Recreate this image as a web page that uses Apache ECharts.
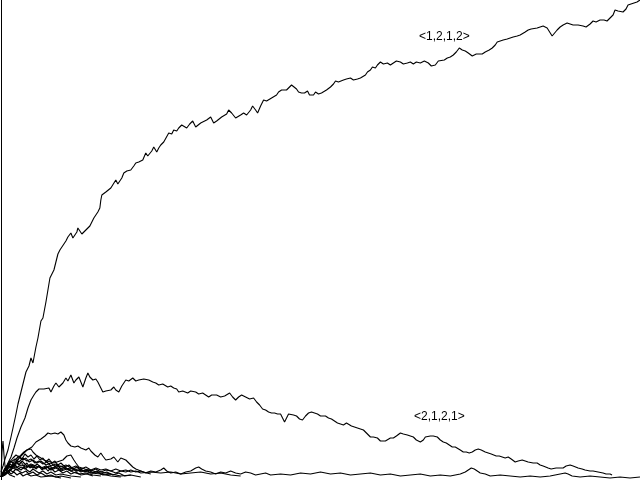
<!DOCTYPE html>
<html>
<head>
<meta charset="utf-8">
<script src="https://cdn.jsdelivr.net/npm/echarts@6/dist/echarts.min.js"></script>
<style>html,body{margin:0;padding:0;background:#fff}#c{width:640px;height:480px}</style>
</head>
<body>
<div id="c"></div>
<script>
// Pattern counts over steps: [step, count]
const s1212 = [[0,8],[2,14],[4,21],[7,30],[10,43],[12,52],[15,66],[17,76],[20,88],[22,96],[25,108],[28,114],[30,122],[32,117],[35,133],[37,142],[40,159],[42,162],[45,178],[47,190],[49,202],[51,204],[53,210],[55,218],[57,226],[59,230],[61,231],[63,236],[65,239],[67,243],[69,244],[70,247],[72,242],[74,240],[76,248],[77,252],[79,249],[81,246],[83,244],[85,250],[87,252],[89,254],[91,258],[93,262],[95,265],[97,268],[99,272],[100,280],[101,285],[103,284],[105,288],[107,286],[110,292],[112,291],[115,300],[117,296],[119,294],[121,302],[123,307],[126,309],[130,310],[133,314],[135,317],[138,318],[142,320],[145,327],[147,324],[149,322],[151,329],[153,333],[156,328],[158,332],[160,335],[163,338],[165,340],[168,347],[171,346],[173,350],[176,349],[178,352],[181,355],[183,357],[186,352],[189,356],[192,359],[195,353],[197,355],[200,357],[202,358],[206,360],[210,363],[213,357],[216,359],[218,360],[221,363],[223,362],[226,366],[228,370],[231,367],[233,365],[235,362],[237,363],[240,365],[243,367],[246,365],[248,367],[250,370],[252,374],[255,370],[257,367],[260,374],[263,380],[266,379],[268,381],[271,382],[273,383],[276,385],[278,388],[281,390],[283,391],[286,390],[288,392],[291,395],[293,394],[296,391],[298,388],[301,387],[304,387],[307,389],[309,385],[311,383],[313,385],[315,388],[318,386],[321,387],[323,388],[326,390],[330,393],[333,396],[335,399],[338,398],[340,399],[343,400],[346,401],[350,402],[353,400],[357,401],[360,402],[362,403],[365,405],[367,408],[370,410],[372,413],[375,412],[377,415],[380,418],[383,416],[387,417],[390,415],[393,417],[396,419],[400,418],[403,416],[407,417],[410,418],[413,416],[416,418],[420,417],[424,419],[428,417],[431,414],[435,415],[438,419],[440,418],[444,420],[447,422],[450,423],[453,425],[456,428],[459,432],[462,430],[465,429],[468,427],[470,428],[472,424],[473,424],[476,426],[478,427],[482,426],[485,428],[489,430],[492,432],[495,435],[497,438],[500,439],[503,440],[507,441],[510,442],[513,443],[517,444],[520,445],[522,445],[525,448],[528,450],[531,451],[533,452],[537,452],[540,453],[543,454],[547,452],[549,450],[552,444],[554,446],[557,450],[560,453],[563,455],[567,457],[570,456],[573,455],[575,453],[578,455],[580,456],[583,454],[586,453],[588,452],[590,456],[593,459],[596,458],[600,460],[604,460],[607,459],[610,462],[613,465],[615,470],[618,469],[620,470],[623,468],[626,471],[628,475],[631,476],[634,477],[637,478],[640,480]];
const s2121 = [[0,4],[3,10],[6,15],[10,23],[13,32],[16,42],[20,53],[24,62],[27,72],[30,80],[33,85],[35,88],[38,91],[40,92],[43,91],[45,90],[48,92],[50,88],[53,94],[55,97],[58,93],[60,92],[62,97],[65,102],[67,99],[70,105],[73,97],[75,100],[78,103],[80,98],[82,93],[85,102],[87,107],[89,103],[92,100],[95,101],[97,98],[100,92],[102,88],[105,89],[107,87],[110,90],[113,93],[115,90],[118,88],[121,94],[125,100],[128,99],[132,102],[135,99],[138,100],[140,98],[143,101],[145,103],[148,100],[152,98],[155,97],[158,95],[162,96],[167,93],[170,94],[173,92],[176,91],[178,88],[182,89],[187,87],[190,89],[195,88],[198,86],[202,87],[205,85],[208,83],[211,85],[213,87],[216,85],[218,87],[220,83],[224,84],[229,87],[232,83],[235,80],[238,83],[241,85],[245,83],[249,81],[253,82],[256,78],[259,75],[262,71],[265,70],[268,68],[271,67],[274,67],[277,66],[280,66],[282,62],[284,58],[286,62],[288,66],[290,68],[293,65],[296,64],[299,61],[302,60],[305,64],[308,67],[311,68],[314,67],[317,66],[320,64],[322,65],[325,64],[328,62],[331,61],[334,59],[337,57],[340,56],[343,55],[346,57],[348,57],[351,54],[354,53],[357,52],[360,51],[363,50],[366,47],[370,43],[373,43],[377,42],[380,39],[382,37],[385,39],[387,40],[390,42],[393,42],[396,44],[400,47],[403,46],[407,45],[410,44],[413,43],[416,40],[418,39],[420,38],[423,40],[425,43],[427,43],[430,44],[433,44],[437,43],[440,40],[443,38],[446,37],[449,35],[452,33],[455,33],[457,32],[460,30],[463,28],[466,28],[469,27],[472,28],[475,30],[478,31],[481,30],[485,28],[488,27],[491,26],[493,25],[496,24],[499,24],[502,23],[505,22],[508,23],[511,21],[515,18],[518,19],[522,20],[525,19],[528,18],[530,17],[533,17],[537,17],[540,15],[543,14],[545,12],[548,12],[551,11],[553,11],[556,12],[560,12],[563,12],[566,14],[568,15],[570,15],[573,14],[575,13],[578,12],[582,11],[585,10],[587,10],[590,9],[593,9],[595,8],[598,8],[600,7],[603,7],[606,6],[608,6],[610,6],[612,5]];
const s3 = [[0,3],[5,6],[10,10],[14,16],[17,20],[20,24],[23,27],[26,30],[28,32],[31,33],[33,35],[35,38],[37,40],[40,41],[42,42],[44,44],[45,45],[47,47],[48,48],[50,46],[52,45],[54,47],[55,48],[57,46],[59,48],[60,48],[62,47],[63,45],[65,40],[67,37],[68,35],[70,34],[72,32],[74,33],[75,33],[77,34],[80,32],[82,31],[85,30],[87,32],[88,32],[90,29],[92,27],[94,25],[97,23],[99,25],[100,27],[102,24],[103,22],[105,20],[107,20],[110,21],[113,23],[115,21],[117,18],[119,20],[120,22],[122,21],[125,20],[127,18],[128,17],[130,15],[132,13],[135,11],[137,10],[140,9],[143,8],[146,7],[150,6]];
const s4 = [[0,3],[4,6],[8,10],[12,15],[16,20],[20,25],[23,28],[26,30],[28,32],[30,31],[32,28],[35,25],[37,23],[40,22],[43,20],[46,19],[50,18],[53,17],[56,18],[59,19],[62,20],[64,22],[66,24],[68,25],[70,25],[71,23],[73,20],[75,17],[78,13],[81,12],[84,11],[88,10],[92,9],[96,8],[100,8],[105,7],[110,6]];
const s5 = [[0,3],[5,10],[10,14],[15,12],[20,15],[25,13],[30,16],[35,14],[40,12],[45,14],[50,11],[55,13],[60,10],[65,12],[70,9],[75,11],[80,8],[85,10],[90,9],[95,11],[100,8],[105,10],[110,9],[115,7],[120,9],[125,8],[130,10],[135,8],[140,9],[145,7],[150,9],[155,8],[160,10],[163,12],[166,9],[170,7],[175,8],[180,6],[185,8],[190,9],[195,12],[198,13],[201,11],[205,9],[210,8],[215,6],[220,8],[225,7],[230,9],[235,7],[240,6],[245,8],[250,7],[255,5],[260,6],[265,7],[270,5],[280,6],[290,5],[300,7],[310,6],[320,8],[330,6],[340,7],[350,5],[360,6],[370,7],[380,5],[390,6],[400,4],[410,5],[420,6],[430,4],[440,5],[450,4],[460,6],[465,8],[468,10],[471,12],[474,11],[477,9],[480,7],[485,6],[490,4],[500,5],[510,4],[520,3],[530,4],[540,3],[550,4],[555,5],[560,6],[565,7],[568,6],[572,4],[580,3],[590,4],[600,3],[610,2],[620,3],[630,2],[640,3]];
const s6 = [[0,3],[4,10],[8,17],[12,22],[15,25],[18,23],[22,20],[25,22],[28,18],[32,20],[36,17],[40,19],[45,15],[50,17],[55,13],[60,14],[65,11],[70,12],[75,9],[80,10],[90,7],[100,6],[110,4],[120,3]];
const s7 = [[0,3],[3,8],[6,13],[9,16],[12,14],[15,18],[18,15],[21,19],[24,16],[27,13],[30,15],[34,12],[38,14],[42,11],[46,13],[50,10],[55,12],[60,9],[66,11],[72,8],[78,6],[85,7],[92,5],[100,4]];
const s8 = [[0,3],[2,6],[5,11],[8,14],[11,12],[14,15],[17,12],[20,10],[23,13],[26,10],[29,8],[32,11],[35,9],[38,7],[42,9],[46,6],[50,8],[55,5],[60,6],[70,4],[80,3]];
const s9 = [[0,3],[3,5],[6,8],[9,10],[12,8],[15,11],[18,9],[21,7],[25,9],[28,6],[32,8],[36,5],[40,7],[45,4],[50,5],[55,3],[60,4],[70,2]];
const s10 = [[0,3],[2,4],[4,7],[7,9],[10,6],[13,8],[16,5],[19,7],[22,4],[26,6],[30,4],[35,5],[40,3],[50,4],[60,2]];
const s11 = [[0,3],[5,12],[10,18],[14,21],[18,18],[22,22],[26,19],[30,21],[34,17],[38,19],[42,16],[46,18],[50,14],[55,16],[60,13],[65,15],[70,12],[75,14],[80,11],[85,13],[90,10],[95,12],[100,10],[105,11],[110,9],[115,11],[120,9],[125,10],[130,8],[135,9],[140,7],[150,8],[160,7],[170,8],[180,6],[190,7],[200,8],[210,6],[220,7],[230,5],[240,4]];
const s12 = [[0,3],[1,28],[2,39],[3,25],[4,14],[6,8],[9,5],[14,3]];
const s13 = [[0,3],[3,9],[6,14],[9,19],[12,17],[15,21],[18,24],[21,21],[24,26],[27,23],[30,25],[33,21],[36,24],[39,20],[42,22],[45,18],[48,21],[51,17],[54,19],[57,15],[60,17],[64,13],[68,15],[72,11],[76,13],[80,9],[85,10],[90,7],[96,8],[102,5],[110,6],[120,4],[130,5],[140,3]];
const s14 = [[0,3],[2,7],[4,12],[6,9],[8,15],[10,12],[12,17],[14,13],[16,19],[18,15],[20,18],[23,14],[26,17],[29,12],[32,15],[35,11],[38,14],[41,10],[44,13],[47,9],[50,12],[54,8],[58,10],[62,7],[66,9],[70,6],[75,8],[80,5],[86,6],[92,4]];
const s15 = [[0,3],[4,5],[8,9],[12,12],[16,10],[20,13],[24,11],[28,14],[32,12],[36,16],[40,13],[44,11],[48,14],[52,12],[56,15],[60,11],[64,13],[68,10],[72,12],[76,9],[80,11],[84,8],[88,10],[92,7],[96,9],[100,6],[106,8],[112,5],[118,7],[124,4],[130,5]];
const seriesNames = ['<1,2,1,2>','<2,1,2,1>','p3','p4','p5','p6','p7','p8','p9','p10','p11','p12','p13','p14','p15'];
const seriesData = [s1212,s2121,s3,s4,s5,s6,s7,s8,s9,s10,s11,s12,s13,s14,s15];
const labelTexts = ['<1,2,1,2>','<2,1,2,1>'];

const chart = echarts.init(document.getElementById('c'), null, {renderer:'canvas'});
chart.setOption({
  animation:false,
  backgroundColor:'#fff',
  grid:{left:1,right:0,top:0,bottom:0},
  xAxis:{type:'value',min:0,max:640,show:false},
  yAxis:{type:'value',min:0,max:480,axisLine:{show:true,onZero:false,lineStyle:{color:'#000',width:1}},axisTick:{show:false},axisLabel:{show:false},splitLine:{show:false}},
  series: seriesData.map((d,i)=>({
    name:seriesNames[i],type:'line',data:d,showSymbol:false,symbol:'none',
    lineStyle:{color:'#000',width:1.1},clip:true
  })),
  graphic:[
    {type:'text',left:419,top:31,style:{text:labelTexts[0],font:'12px "Liberation Sans"',fill:'#000'}},
    {type:'text',left:414,top:411,style:{text:labelTexts[1],font:'12px "Liberation Sans"',fill:'#000'}}
  ]
});
</script>
</body>
</html>
